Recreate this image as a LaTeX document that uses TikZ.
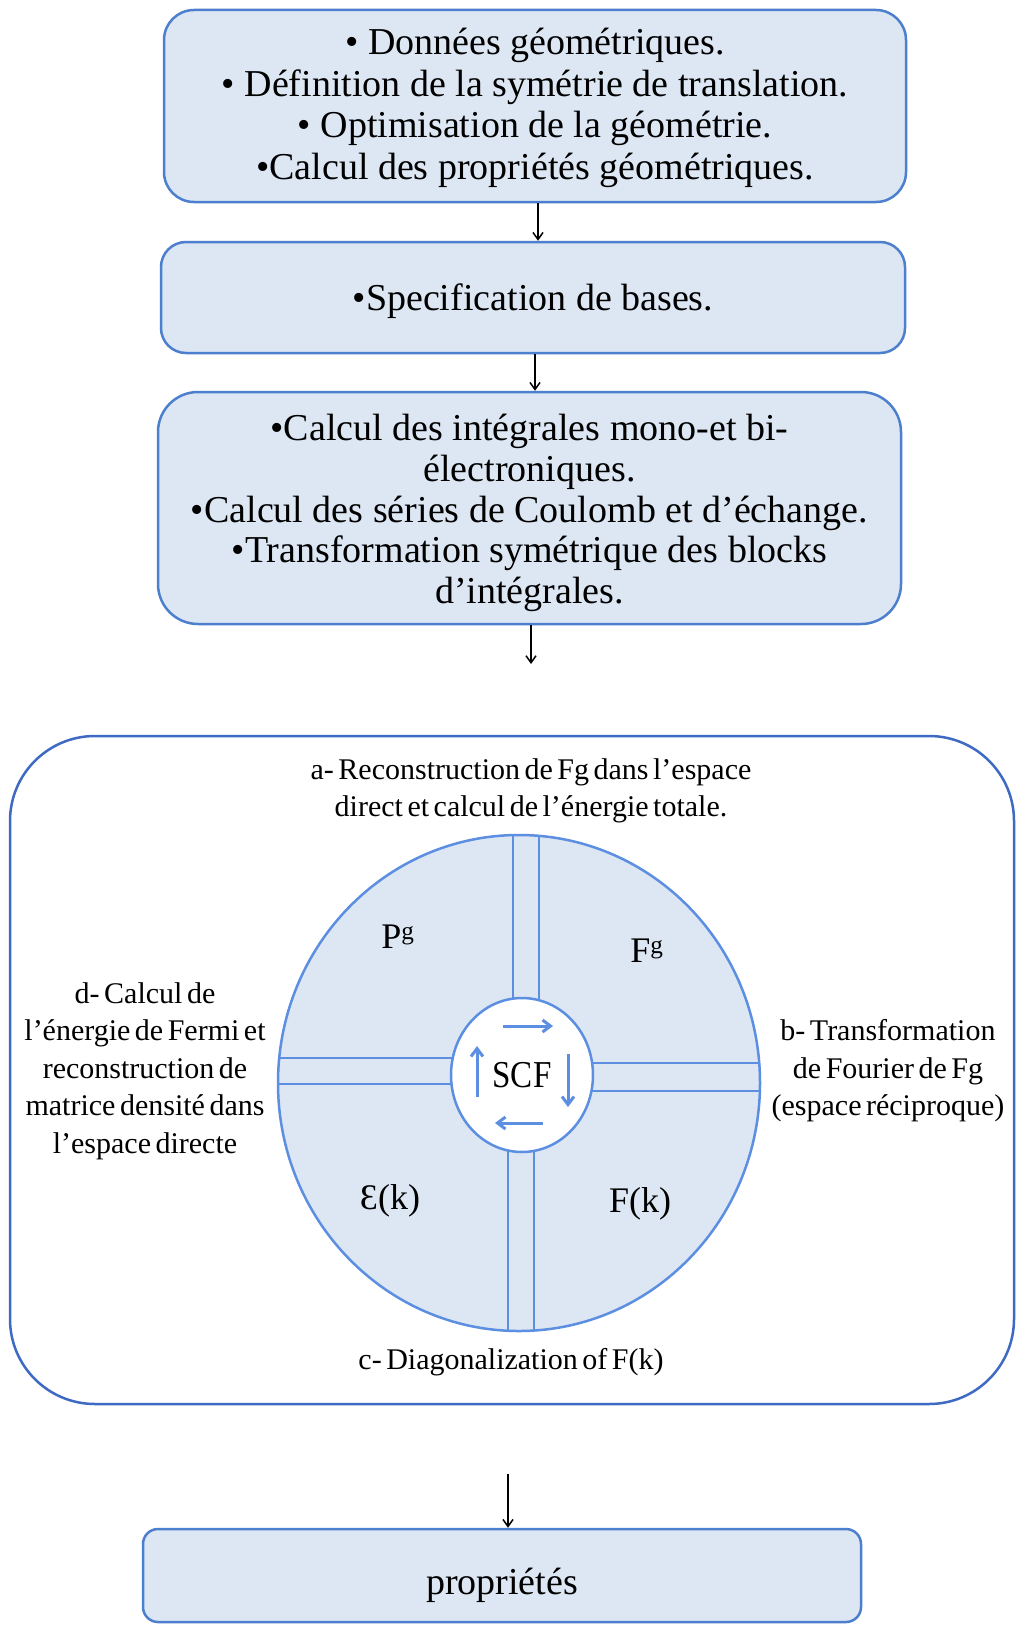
\documentclass[tikz,border=0pt]{standalone}
\usepackage{fontspec}
\setmainfont{Liberation Serif}
\newfontfamily\scffont{Liberation Serif}[FakeStretch=0.87]
\newfontfamily\labfont{Liberation Serif}[WordSpace=0.6]
\usetikzlibrary{arrows.meta,shapes.geometric}
\definecolor{boxfill}{RGB}{221,231,243}
\definecolor{boxline}{RGB}{76,127,206}
\definecolor{bigline}{RGB}{62,106,196}
\definecolor{circline}{RGB}{92,142,226}
\newcommand{\topstrut}[1]{\rule{0pt}{#1}}
\newcommand{\botstrut}[1]{\rule[-#1]{0pt}{#1}}
\begin{document}
\begin{tikzpicture}[x=1pt,y=-1pt,
  flowbox/.style={draw=boxline, line width=2.5pt, fill=boxfill, rounded corners=#1,
    inner sep=0pt, align=center, font=\fontsize{38}{41.5}\selectfont},
  flowarrow/.style={draw=black, line width=1.5pt, -{Straight Barb[length=7pt,width=10pt]}},
  lab/.style={align=center, inner sep=0pt, font=\labfont\fontsize{30}{37.5}\selectfont},
  quad/.style={inner sep=0pt, font=\fontsize{36}{40}\selectfont},
  band/.style={draw=circline, line width=1.3pt},
  scfarrow/.style={draw=circline, line width=3pt, -{Straight Barb[length=8pt,width=12pt]}}
]
\useasboundingbox (0,0) rectangle (1016,1627);
\fill[white] (0,0) rectangle (1016,1627);

% top boxes
\node[flowbox=30pt, minimum width=742pt, minimum height=192pt] (geo) at (535,106)
  {\topstrut{31pt}• Données géométriques.\\ • Définition de la symétrie de translation.\\ • Optimisation de la géométrie.\\ •Calcul des propriétés géométriques.\botstrut{9pt}};
\node[flowbox=25pt, minimum width=744pt, minimum height=111pt, text height=35pt, text depth=9pt] (bases) at (533,297.5)
  {•Specification de bases.};
\node[flowbox=40pt, minimum width=743pt, minimum height=232pt, font=\fontsize{38}{40.7}\selectfont] (integ) at (529.5,508)
  {\topstrut{37pt}•Calcul des intégrales mono-et bi-\\ électroniques.\\ •Calcul des séries de Coulomb et d’échange.\\ •Transformation symétrique des blocks\\ d’intégrales.\botstrut{9pt}};

\coordinate (x1) at (538,0);
\coordinate (x2) at (535,0);
\coordinate (c3) at (531,664);
\coordinate (c4) at (508,1474);
\draw[flowarrow] (geo.south -| x1) -- (bases.north -| x1);
\draw[flowarrow] (bases.south -| x2) -- (integ.north -| x2);
\draw[flowarrow] (integ.south -| c3) -- (c3);

% big loop box
\node[draw=bigline, line width=2.5pt, rounded corners=85pt, minimum width=1004pt, minimum height=668pt, inner sep=0pt] (loop) at (512,1070) {};

% circle
\fill[boxfill] (519,1083) ellipse [x radius=241pt, y radius=248pt];
\begin{scope}
  \clip (519,1083) ellipse [x radius=241pt, y radius=248pt];
  \draw[band] (513,820) -- (513,1075);
  \draw[band] (539,820) -- (539,1075);
  \draw[band] (508,1075) -- (508,1345);
  \draw[band] (534,1075) -- (534,1345);
  \draw[band] (270,1058) -- (522,1058);
  \draw[band] (270,1084) -- (522,1084);
  \draw[band] (522,1063) -- (770,1063);
  \draw[band] (522,1091) -- (770,1091);
\end{scope}
\draw[circline, line width=2.5pt] (519,1083) ellipse [x radius=241pt, y radius=248pt];
\node[draw=circline, line width=2.5pt, fill=white, ellipse, inner sep=0pt, minimum width=142pt, minimum height=154pt] (ring) at (522,1075) {};
\node[inner sep=0pt, font=\scffont\fontsize{38}{40}\selectfont] (scf) at (522,1075) {SCF};
\draw[scfarrow] (503,1026) -- (553,1026);
\draw[scfarrow] (568,1054) -- (568,1107);
\draw[scfarrow] (543,1123) -- (495,1123);
\draw[scfarrow] (477,1097) -- (477,1046);

\node[quad] (pg) at (398,937) {P\textsuperscript{g}};
\node[quad] (fg) at (647,951) {F\textsuperscript{g}};
\node[quad] (ek) at (390,1201) {Ɛ(k)};
\node[quad] (fk) at (640,1204) {F(k)};

% loop labels
\node[lab] (la) at (531,791) {a- Reconstruction de Fg dans l’espace\\ direct et calcul de l’énergie totale.};
\node[lab] (lb) at (888,1071) {b- Transformation\\ de Fourier de Fg\\ (espace réciproque)};
\node[lab] (lc) at (511,1362) {c- Diagonalization of F(k)};
\node[lab] (ld) at (145,1071) {d- Calcul de\\ l’énergie de Fermi et\\ reconstruction de\\ matrice densité dans\\ l’espace directe};

% bottom
\node[flowbox=15pt, minimum width=718pt, minimum height=93pt, text height=46pt, text depth=9pt] (prop) at (502,1575.5) {propriétés};
\draw[flowarrow] (c4) -- (prop.north -| c4);
\end{tikzpicture}
\end{document}
